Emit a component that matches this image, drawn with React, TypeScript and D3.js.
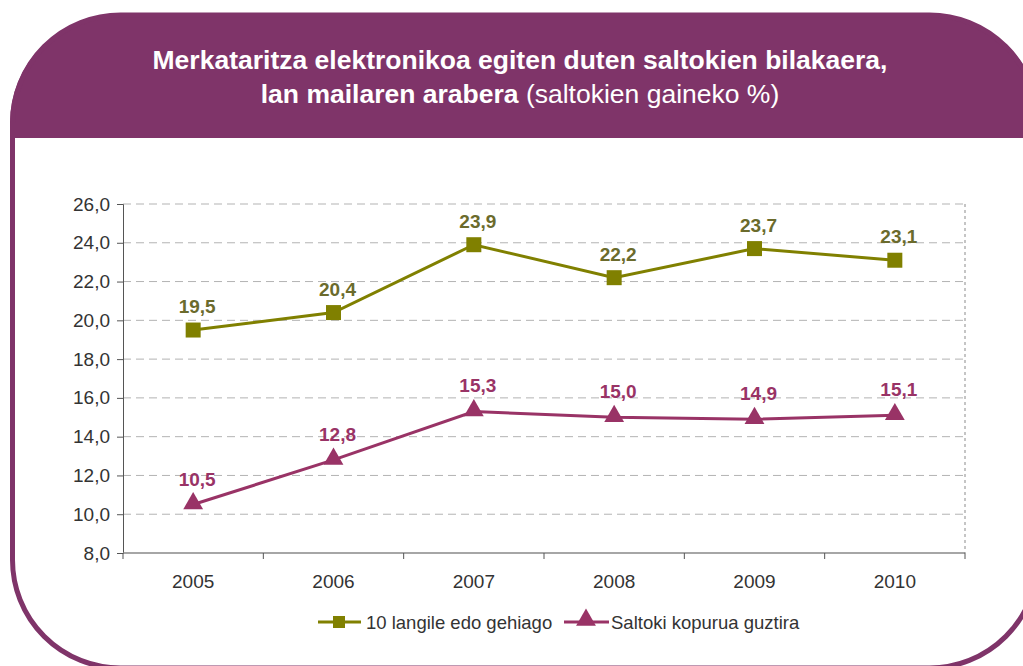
import React, { useEffect, useRef } from 'react';
import * as d3 from 'd3';

const years = ['2005', '2006', '2007', '2008', '2009', '2010'];
const bigShops = [19.5, 20.4, 23.9, 22.2, 23.7, 23.1];
const allShops = [10.5, 12.8, 15.3, 15.0, 14.9, 15.1];
const yTicks = [8, 10, 12, 14, 16, 18, 20, 22, 24, 26];
const seriesNames = ['10 langile edo gehiago', 'Saltoki kopurua guztira'];

const PURPLE = '#7f3469';
const OLIVE = '#808000';
const OLIVE_TXT = '#6b6b2c';
const MAGENTA = '#993366';
const FONT = 'Liberation Sans, Arial, sans-serif';

function App() {
  const ref = useRef<SVGSVGElement>(null);

  useEffect(() => {
    const svg = d3.select(ref.current);
    svg.selectAll('*').remove();

    const width = 1023, height = 666;
    const margin = { top: 204, left: 123, right: 58, bottom: 113 };
    const w = width - margin.left - margin.right;
    const h = height - margin.top - margin.bottom;

    // frame
    const defs = svg.append('defs');
    defs.append('clipPath').attr('id', 'head-clip')
      .append('rect').attr('x', 0).attr('y', 0).attr('width', width).attr('height', 138);

    svg.append('rect')
      .attr('x', 10).attr('y', 15).attr('width', 1030).attr('height', 655)
      .attr('rx', 108).attr('ry', 108)
      .attr('fill', PURPLE)
      .attr('clip-path', 'url(#head-clip)');
    svg.append('rect')
      .attr('x', 12.5).attr('y', 15).attr('width', 1025).attr('height', 653)
      .attr('rx', 108).attr('ry', 108)
      .attr('fill', 'none')
      .attr('stroke', PURPLE)
      .attr('stroke-width', 5);

    // title
    const title = svg.append('text')
      .attr('text-anchor', 'middle')
      .attr('fill', 'white')
      .style('font-family', FONT)
      .style('font-size', '26.5px');
    title.append('tspan').attr('x', 520).attr('y', 69)
      .style('font-weight', 'bold')
      .text('Merkataritza elektronikoa egiten duten saltokien bilakaera,');
    const l2 = title.append('tspan').attr('x', 520).attr('y', 103);
    l2.append('tspan').style('font-weight', 'bold').text('lan mailaren arabera');
    l2.append('tspan').text(' (saltokien gaineko %)');

    const g = svg.append('g').attr('transform', `translate(${margin.left},${margin.top})`);

    const x = d3.scaleBand().domain(years).range([0, w]);
    const y = d3.scaleLinear().domain([8, 26]).range([h, 0]);

    // grid
    g.selectAll('.grid')
      .data(yTicks.filter(d => d > 8))
      .join('line')
      .attr('x1', 0).attr('x2', w)
      .attr('y1', d => y(d)).attr('y2', d => y(d))
      .attr('stroke', '#b3b3b3')
      .attr('stroke-dasharray', '8,5');
    g.append('line')
      .attr('x1', w).attr('x2', w).attr('y1', 0).attr('y2', h)
      .attr('stroke', '#b3b3b3').attr('stroke-width', 1.5)
      .attr('stroke-dasharray', '3,3');

    // axes
    const yAxis = g.append('g')
      .call(d3.axisLeft(y).tickValues(yTicks).tickSize(6).tickPadding(7)
        .tickFormat(d => d3.format('.1f')(d as number).replace('.', ',')));
    yAxis.select('.domain').attr('stroke', '#555');
    yAxis.selectAll('.tick line').attr('stroke', '#555');
    yAxis.selectAll('text')
      .attr('fill', '#333')
      .style('font-family', FONT)
      .style('font-size', '19px');

    const bounds = years.map(d => x(d) as number).concat([w]);
    const xAxis = g.append('g').attr('transform', `translate(0,${h})`);
    xAxis.append('line').attr('x1', 0).attr('x2', w).attr('stroke', '#888').attr('stroke-width', 1.5);
    xAxis.selectAll('.tk').data(bounds).join('line')
      .attr('x1', d => d).attr('x2', d => d).attr('y1', 0).attr('y2', 6)
      .attr('stroke', '#555');
    xAxis.selectAll('.lbl').data(years).join('text')
      .attr('x', d => (x(d) as number) + x.bandwidth() / 2)
      .attr('y', 35)
      .attr('text-anchor', 'middle')
      .attr('fill', '#333')
      .style('font-family', FONT)
      .style('font-size', '19px')
      .text(d => d);

    const cx = (i: number) => (x(years[i]) as number) + x.bandwidth() / 2;
    const line = d3.line<number>().x((d, i) => cx(i)).y(d => y(d));

    const fmt = (v: number) => d3.format('.1f')(v).replace('.', ',');

    // series 1
    g.append('path').datum(bigShops).attr('d', line)
      .attr('fill', 'none').attr('stroke', OLIVE).attr('stroke-width', 3);
    g.selectAll('.sq').data(bigShops).join('rect')
      .attr('x', (d, i) => cx(i) - 7.5).attr('y', d => y(d) - 7.5)
      .attr('width', 15).attr('height', 15).attr('fill', OLIVE);
    g.selectAll('.lab1').data(bigShops).join('text')
      .attr('x', (d, i) => cx(i) + 4).attr('y', d => y(d) - 17)
      .attr('text-anchor', 'middle').attr('fill', OLIVE_TXT)
      .style('font-family', FONT)
      .style('font-size', '19px').style('font-weight', 'bold')
      .text(d => fmt(d));

    // series 2
    const tri = d3.symbol().type(d3.symbolTriangle).size(170);
    g.append('path').datum(allShops).attr('d', line)
      .attr('fill', 'none').attr('stroke', MAGENTA).attr('stroke-width', 3);
    g.selectAll('.tri').data(allShops).join('path')
      .attr('d', tri)
      .attr('transform', (d, i) => `translate(${cx(i)},${y(d) - 1})`)
      .attr('fill', MAGENTA);
    g.selectAll('.lab2').data(allShops).join('text')
      .attr('x', (d, i) => cx(i) + 4).attr('y', d => y(d) - 19)
      .attr('text-anchor', 'middle').attr('fill', MAGENTA)
      .style('font-family', FONT)
      .style('font-size', '19px').style('font-weight', 'bold')
      .text(d => fmt(d));

    // legend
    const leg = svg.append('g').attr('transform', 'translate(318,622)');
    leg.append('line').attr('x1', 0).attr('x2', 43).attr('stroke', OLIVE).attr('stroke-width', 3);
    leg.append('rect').attr('x', 15).attr('y', -6).attr('width', 12).attr('height', 12).attr('fill', OLIVE);
    leg.append('text').attr('x', 48).attr('y', 7)
      .attr('fill', '#333')
      .style('font-family', FONT)
      .style('font-size', '18.5px').text(seriesNames[0]);
    leg.append('line').attr('x1', 246).attr('x2', 291).attr('stroke', MAGENTA).attr('stroke-width', 3);
    leg.append('path').attr('d', tri).attr('transform', 'translate(268,-2)').attr('fill', MAGENTA);
    leg.append('text').attr('x', 293).attr('y', 7)
      .attr('fill', '#333')
      .style('font-family', FONT)
      .style('font-size', '18.5px').text(seriesNames[1]);
  });

  return (
    <svg ref={ref} width={1023} height={666}
      style={{ position: 'absolute', left: 0, top: 0, background: 'white' }} />
  );
}

export default App;
